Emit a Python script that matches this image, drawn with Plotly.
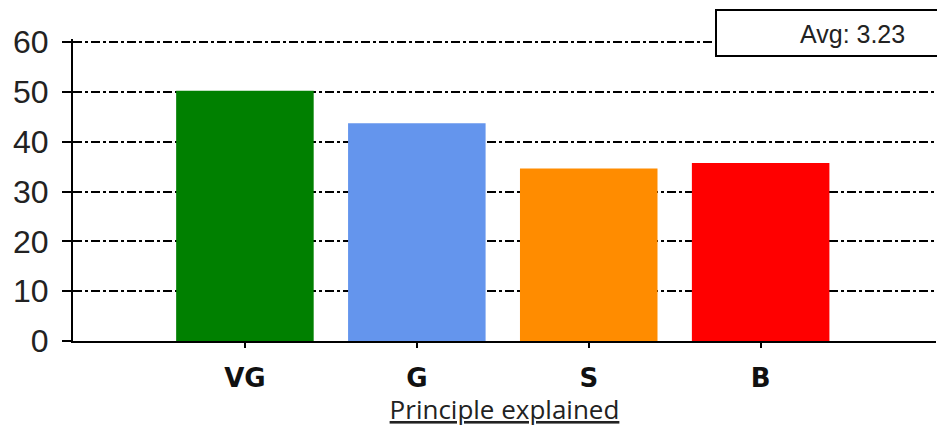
import plotly.graph_objects as go

categories = ["VG", "G", "S", "B"]
values = [50.2, 43.7, 34.6, 35.7]
colors = ["#008000", "#6495ED", "#FF8C00", "#FF0000"]
y_ticks = [0, 10, 20, 30, 40, 50, 60]
avg_text = "Avg: 3.23"
x_title = "Principle explained"

fig = go.Figure(go.Bar(
    x=categories, y=values, marker=dict(color=colors, line=dict(width=0)),
    width=0.8,
))

PH = 302  # plot height in px
fig.update_layout(
    width=937, height=427,
    margin=dict(l=73, r=1, t=39, b=86, autoexpand=False),
    plot_bgcolor="white", paper_bgcolor="white",
    showlegend=False,
    font=dict(family="Liberation Sans, Arial", color="#222"),
)
fig.update_yaxes(
    range=[0, 60.6], tickvals=y_ticks, automargin=False,
    showline=True, linecolor="black", linewidth=2,
    ticks="outside", ticklen=9, tickwidth=2, tickcolor="black",
    showgrid=True, gridcolor="black", gridwidth=1.5, griddash="dashdot",
    tickfont=dict(size=32, family="Liberation Sans, Arial", color="#222"),
    ticklabelstandoff=7, zeroline=False,
)
fig.update_xaxes(
    range=[-1, 4.02], automargin=False,
    showline=True, linecolor="black", linewidth=2,
    ticks="outside", ticklen=5, tickwidth=2, tickcolor="black",
    tickfont=dict(size=26, family="DejaVu Sans", color="#111", weight="bold"),
    ticklabelstandoff=8,
    title=dict(text="<u>" + x_title + "</u>", font=dict(size=26, family="Open Sans", color="#222"), standoff=6),
)

fig.add_shape(type="rect", xref="paper", yref="paper",
              x0=(716 - 73) / 863, x1=1.02, y0=(341 - 56) / PH, y1=(341 - 10) / PH,
              line=dict(color="black", width=2), fillcolor="white", layer="above")
fig.add_annotation(xref="paper", yref="paper", x=(852 - 73) / 863, y=(341 - 34) / PH,
                   xanchor="center", yanchor="middle",
                   text=avg_text, showarrow=False,
                   font=dict(size=25, family="Liberation Sans, Arial", color="#222"))

fig.write_html("out.html", config={"displayModeBar": False},
               post_script="document.body.style.margin='0';document.body.style.overflow='hidden';")
